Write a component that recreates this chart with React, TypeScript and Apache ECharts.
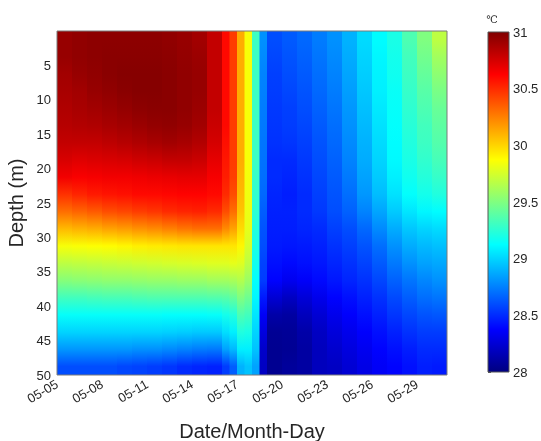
import React, { useEffect, useRef } from 'react';
import * as echarts from 'echarts';

// x tick labels (every 3 days starting at 05-05, day 0)
const dateLabels = ['05-05', '05-08', '05-11', '05-14', '05-17', '05-20', '05-23', '05-26', '05-29'];
// column edges (days since 05-05 00:00)
const dayEdges = [0, 1, 2, 3, 4, 5, 6, 7, 8, 9, 10, 11, 11.5, 12, 12.5, 13, 13.5, 14, 15, 16, 17, 18, 19, 20, 21, 22, 23, 24, 25, 26];
// depths (m) of the values in each profile
const depths = [1.25, 3.75, 6.25, 8.75, 11.25, 13.75, 16.25, 18.75, 21.25, 23.75, 26.25, 28.75, 31.25, 33.75, 36.25, 38.75, 41.25, 43.75, 46.25, 48.75];
const colorbarTicks = [28, 31];

// temperature profiles (℃), one per column, from surface down to 50 m
const t00 = [30.93, 30.93, 30.9, 30.88, 30.86, 30.84, 30.8, 30.74, 30.66, 30.48, 30.3, 30.08, 29.85, 29.68, 29.52, 29.32, 29.14, 29.0, 28.82, 28.6];
const t01 = [30.95, 30.95, 30.93, 30.9, 30.88, 30.85, 30.8, 30.72, 30.64, 30.52, 30.33, 30.1, 29.86, 29.69, 29.53, 29.32, 29.14, 29.0, 28.82, 28.6];
const t02 = [30.96, 30.96, 30.95, 30.93, 30.9, 30.86, 30.8, 30.73, 30.65, 30.55, 30.36, 30.12, 29.87, 29.7, 29.54, 29.33, 29.14, 29.0, 28.82, 28.6];
const t03 = [30.96, 30.97, 30.97, 30.95, 30.92, 30.88, 30.82, 30.74, 30.66, 30.57, 30.4, 30.15, 29.88, 29.71, 29.55, 29.34, 29.14, 29.0, 28.82, 28.6];
const t04 = [30.96, 30.97, 30.98, 30.97, 30.94, 30.9, 30.84, 30.75, 30.66, 30.58, 30.42, 30.17, 29.9, 29.72, 29.55, 29.34, 29.14, 29.0, 28.82, 28.58];
const t05 = [30.96, 30.97, 30.98, 30.98, 30.96, 30.92, 30.86, 30.77, 30.67, 30.6, 30.45, 30.2, 29.92, 29.73, 29.56, 29.35, 29.14, 29.0, 28.8, 28.57];
const t06 = [30.96, 30.97, 30.98, 30.98, 30.97, 30.94, 30.88, 30.78, 30.68, 30.6, 30.47, 30.22, 29.93, 29.74, 29.57, 29.36, 29.14, 29.0, 28.8, 28.55];
const t07 = [30.95, 30.96, 30.97, 30.97, 30.97, 30.95, 30.9, 30.8, 30.69, 30.61, 30.5, 30.25, 29.94, 29.75, 29.57, 29.36, 29.13, 28.99, 28.78, 28.53];
const t08 = [30.93, 30.94, 30.95, 30.95, 30.95, 30.93, 30.88, 30.8, 30.7, 30.62, 30.52, 30.28, 29.95, 29.76, 29.58, 29.36, 29.13, 28.98, 28.76, 28.5];
const t09 = [30.9, 30.92, 30.93, 30.93, 30.92, 30.9, 30.85, 30.78, 30.7, 30.62, 30.53, 30.3, 29.95, 29.77, 29.58, 29.36, 29.13, 28.97, 28.74, 28.48];
const t10 = [30.8, 30.8, 30.8, 30.8, 30.8, 30.78, 30.75, 30.7, 30.65, 30.6, 30.5, 30.3, 29.95, 29.78, 29.6, 29.37, 29.14, 28.97, 28.73, 28.47];
const t11 = [30.6, 30.6, 30.6, 30.6, 30.6, 30.6, 30.58, 30.56, 30.54, 30.5, 30.4, 30.22, 29.95, 29.78, 29.6, 29.38, 29.18, 29.03, 28.85, 28.55];
const t12 = [30.45, 30.45, 30.45, 30.45, 30.45, 30.45, 30.45, 30.45, 30.44, 30.4, 30.3, 30.15, 29.95, 29.8, 29.62, 29.42, 29.22, 29.08, 28.92, 28.65];
const t13 = [30.12, 30.12, 30.12, 30.12, 30.12, 30.12, 30.12, 30.12, 30.1, 30.08, 30.05, 29.98, 29.9, 29.78, 29.65, 29.5, 29.35, 29.22, 29.08, 28.9];
const t14 = [29.85, 29.85, 29.85, 29.85, 29.85, 29.85, 29.85, 29.85, 29.84, 29.83, 29.82, 29.8, 29.75, 29.68, 29.58, 29.45, 29.32, 29.2, 29.08, 28.95];
const t15 = [29.3, 29.3, 29.3, 29.3, 29.3, 29.3, 29.3, 29.3, 29.28, 29.27, 29.25, 29.22, 29.2, 29.17, 29.13, 29.1, 29.05, 29.0, 28.95, 28.85];
const t16 = [28.8, 28.78, 28.76, 28.75, 28.74, 28.73, 28.72, 28.71, 28.7, 28.68, 28.65, 28.62, 28.6, 28.57, 28.55, 28.45, 28.35, 28.28, 28.22, 28.2];
const t17 = [28.6, 28.58, 28.56, 28.55, 28.54, 28.53, 28.52, 28.5, 28.5, 28.48, 28.47, 28.46, 28.45, 28.42, 28.38, 28.25, 28.12, 28.06, 28.05, 28.05];
const t18 = [28.64, 28.62, 28.6, 28.58, 28.56, 28.55, 28.53, 28.5, 28.48, 28.46, 28.47, 28.46, 28.44, 28.4, 28.33, 28.2, 28.1, 28.07, 28.06, 28.08];
const t19 = [28.68, 28.66, 28.64, 28.62, 28.6, 28.58, 28.56, 28.54, 28.52, 28.5, 28.5, 28.48, 28.45, 28.42, 28.36, 28.26, 28.18, 28.12, 28.1, 28.1];
const t20 = [28.74, 28.72, 28.7, 28.68, 28.66, 28.64, 28.62, 28.6, 28.58, 28.56, 28.54, 28.5, 28.47, 28.44, 28.4, 28.32, 28.25, 28.2, 28.18, 28.18];
const t21 = [28.8, 28.78, 28.76, 28.74, 28.72, 28.7, 28.68, 28.66, 28.64, 28.62, 28.6, 28.56, 28.52, 28.48, 28.44, 28.38, 28.32, 28.27, 28.23, 28.2];
const t22 = [28.9, 28.88, 28.86, 28.84, 28.82, 28.8, 28.78, 28.76, 28.73, 28.7, 28.66, 28.6, 28.56, 28.52, 28.48, 28.42, 28.37, 28.32, 28.28, 28.25];
const t23 = [29.02, 29.0, 28.98, 28.96, 28.94, 28.92, 28.9, 28.88, 28.85, 28.82, 28.76, 28.68, 28.62, 28.57, 28.52, 28.47, 28.42, 28.37, 28.33, 28.3];
const t24 = [29.12, 29.1, 29.09, 29.08, 29.06, 29.04, 29.02, 29.0, 28.97, 28.93, 28.86, 28.78, 28.7, 28.64, 28.58, 28.52, 28.47, 28.42, 28.38, 28.35];
const t25 = [29.2, 29.18, 29.17, 29.15, 29.14, 29.13, 29.12, 29.11, 29.08, 29.04, 28.97, 28.88, 28.8, 28.73, 28.66, 28.59, 28.53, 28.47, 28.42, 28.38];
const t26 = [29.35, 29.32, 29.3, 29.28, 29.26, 29.24, 29.22, 29.2, 29.17, 29.13, 29.05, 28.96, 28.88, 28.8, 28.72, 28.65, 28.58, 28.52, 28.46, 28.42];
const t27 = [29.5, 29.46, 29.42, 29.38, 29.35, 29.32, 29.3, 29.27, 29.23, 29.18, 29.1, 29.0, 28.92, 28.85, 28.77, 28.7, 28.62, 28.55, 28.5, 28.46];
const t28 = [29.68, 29.6, 29.54, 29.48, 29.43, 29.4, 29.37, 29.33, 29.28, 29.22, 29.12, 29.02, 28.94, 28.87, 28.8, 28.72, 28.63, 28.55, 28.5, 28.45];

const profiles = [t00, t01, t02, t03, t04, t05, t06, t07, t08, t09, t10, t11, t12, t13, t14, t15, t16, t17, t18, t19, t20, t21, t22, t23, t24, t25, t26, t27, t28];

const VMIN = 28;
const VMAX = 31;
const DEPTH_MAX = 50;

const clamp01 = (x: number) => Math.max(0, Math.min(1, x));
// MATLAB "jet" colormap
function jet(v: number) {
  const f = clamp01((v - VMIN) / (VMAX - VMIN));
  const r = clamp01(Math.min(4 * f - 1.5, -4 * f + 4.5));
  const g = clamp01(Math.min(4 * f - 0.5, -4 * f + 3.5));
  const b = clamp01(Math.min(4 * f + 0.5, -4 * f + 2.5));
  return `rgb(${Math.round(r * 255)},${Math.round(g * 255)},${Math.round(b * 255)})`;
}

const FONT = "'Liberation Sans', Arial, Helvetica, sans-serif";
const TXT = '#262626';

export default function App() {
  const ref = useRef<HTMLDivElement>(null);
  useEffect(() => {
    const chart = echarts.init(ref.current!, null, { renderer: 'svg' });
    // one item per time column: [x0, x1, index]
    const columns = profiles.map((_, i) => [dayEdges[i], dayEdges[i + 1], i]);
    chart.setOption({
      animation: false,
      grid: [
        { left: 57, top: 31, width: 390, height: 344, outerBoundsMode: 'none', containLabel: false },
        { left: 488, top: 32, width: 21, height: 340, outerBoundsMode: 'none', containLabel: false },
      ],
      xAxis: [
        {
          gridIndex: 0,
          type: 'value',
          min: 0,
          max: 26,
          interval: 3,
          name: 'Date/Month-Day',
          nameLocation: 'middle',
          nameGap: 46,
          nameTextStyle: { fontFamily: FONT, fontSize: 20, color: TXT },
          axisLine: { show: false },
          axisTick: { show: false },
          splitLine: { show: false },
          axisLabel: {
            rotate: 30,
            margin: 8,
            showMaxLabel: false,
            fontFamily: FONT,
            fontSize: 13,
            color: TXT,
            formatter: (v: number) => (v % 3 === 0 && dateLabels[v / 3]) || '',
          },
        },
        { gridIndex: 1, type: 'value', min: 0, max: 1, show: false },
      ],
      yAxis: [
        {
          gridIndex: 0,
          type: 'value',
          inverse: true,
          min: 0,
          max: DEPTH_MAX,
          interval: 5,
          name: 'Depth (m)',
          nameLocation: 'middle',
          nameGap: 30,
          nameTextStyle: { fontFamily: FONT, fontSize: 20, color: TXT },
          axisLine: { show: false },
          axisTick: { show: false },
          splitLine: { show: false },
          axisLabel: {
            margin: 6,
            fontFamily: FONT,
            fontSize: 13,
            color: TXT,
            formatter: (v: number) => (v === 0 ? '' : String(v)),
          },
        },
        {
          gridIndex: 1,
          type: 'value',
          min: VMIN,
          max: VMAX,
          interval: 0.5,
          position: 'right',
          axisLine: { show: false },
          axisTick: { show: true, length: 3, lineStyle: { color: '#555' } },
          splitLine: { show: false },
          axisLabel: { margin: 4, fontFamily: FONT, fontSize: 13, color: TXT },
        },
      ],
      series: [
        {
          type: 'custom',
          xAxisIndex: 0,
          yAxisIndex: 0,
          clip: true,
          encode: { x: [0, 1] },
          data: columns,
          renderItem: (params: any, api: any) => {
            const idx = api.value(2);
            const prof = profiles[idx];
            const p0 = api.coord([api.value(0), 0]);
            const p1 = api.coord([api.value(1), DEPTH_MAX]);
            const stops = [{ offset: 0, color: jet(prof[0]) }];
            prof.forEach((v, j) => stops.push({ offset: depths[j] / DEPTH_MAX, color: jet(v) }));
            stops.push({ offset: 1, color: jet(prof[prof.length - 1]) });
            return {
              type: 'rect',
              shape: {
                x: p0[0],
                y: Math.min(p0[1], p1[1]),
                width: p1[0] - p0[0] + 0.6,
                height: Math.abs(p1[1] - p0[1]),
              },
              style: {
                fill: { type: 'linear', x: 0, y: 0, x2: 0, y2: 1, colorStops: stops },
              },
            };
          },
        },
        {
          type: 'custom',
          xAxisIndex: 1,
          yAxisIndex: 1,
          data: [colorbarTicks],
          renderItem: (params: any, api: any) => {
            const lo = api.coord([0, api.value(0)]);
            const hi = api.coord([1, api.value(1)]);
            const stops = [];
            for (let k = 0; k <= 8; k++) {
              const v = VMAX - (k / 8) * (VMAX - VMIN);
              stops.push({ offset: k / 8, color: jet(v) });
            }
            return {
              type: 'rect',
              shape: { x: lo[0], y: hi[1], width: hi[0] - lo[0], height: lo[1] - hi[1] },
              style: {
                fill: { type: 'linear', x: 0, y: 0, x2: 0, y2: 1, colorStops: stops },
                stroke: '#555',
                lineWidth: 1,
              },
            };
          },
        },
      ],
      graphic: [
        {
          type: 'rect',
          z: 100,
          silent: true,
          shape: { x: 57, y: 31, width: 390, height: 344 },
          style: { fill: 'transparent', stroke: '#7a7a7a', lineWidth: 1 },
        },
        {
          type: 'text',
          z: 100,
          x: 492,
          y: 19,
          style: { text: '℃', fontSize: 10, fill: TXT, align: 'center', verticalAlign: 'middle', fontFamily: 'DejaVu Serif, serif' },
        },
      ],
    });
    return () => chart.dispose();
  }, []);
  return <div ref={ref} style={{ position: 'fixed', left: 0, top: 0, width: 541, height: 441 }} />;
}
